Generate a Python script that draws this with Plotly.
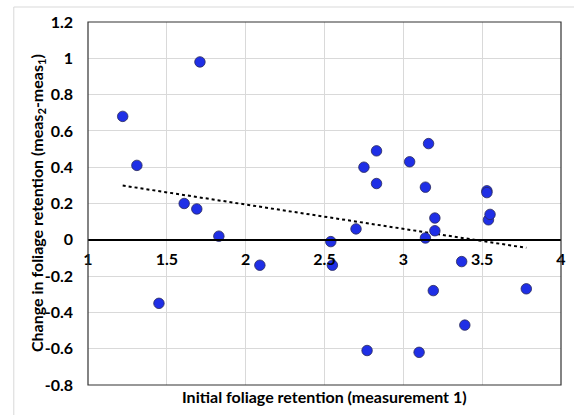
import numpy as np
import plotly.graph_objects as go

# Data
initial_retention = [1.22, 1.31, 1.45, 1.61, 1.69, 1.71, 1.83, 2.09, 2.54, 2.55,
                     2.70, 2.75, 2.77, 2.83, 2.83, 3.04, 3.10, 3.14, 3.14, 3.16,
                     3.19, 3.20, 3.20, 3.37, 3.39, 3.53, 3.53, 3.54, 3.55, 3.78]
change_retention = [0.68, 0.41, -0.35, 0.20, 0.17, 0.98, 0.02, -0.14, -0.01, -0.14,
                    0.06, 0.40, -0.61, 0.49, 0.31, 0.43, -0.62, 0.29, 0.01, 0.53,
                    -0.28, 0.12, 0.05, -0.12, -0.47, 0.27, 0.26, 0.11, 0.14, -0.27]
x_ticks = [1, 1.5, 2, 2.5, 3, 3.5, 4]
x_tick_labels = ["1", "1.5", "2", "2.5", "3", "3.5", "4"]
y_ticks = [-0.8, -0.6, -0.4, -0.2, 0, 0.2, 0.4, 0.6, 0.8, 1, 1.2]
y_tick_labels = ["-0.8", "-0.6", "-0.4", "-0.2", "0", "0.2", "0.4", "0.6", "0.8", "1", "1.2"]

xs = np.array(initial_retention)
ys = np.array(change_retention)
slope, intercept = np.polyfit(xs, ys, 1)
trend_x = [xs.min(), xs.max()]
trend_y = [slope * v + intercept for v in trend_x]

FONT = "Lato"
TICK_SIZE = 16
TITLE_SIZE = 16

fig = go.Figure()
fig.add_trace(go.Scatter(x=trend_x, y=trend_y, mode="lines",
                         line=dict(color="black", width=2, dash="dot"),
                         hoverinfo="skip", showlegend=False))
fig.add_trace(go.Scatter(x=initial_retention, y=change_retention, mode="markers",
                         marker=dict(size=10.5, color="#1f2fe6",
                                     line=dict(color="#2a2a5a", width=0.8)),
                         showlegend=False))

fig.update_layout(
    width=574, height=415,
    margin=dict(l=88, r=8, t=22, b=30),
    paper_bgcolor="white", plot_bgcolor="white",
    font=dict(family=FONT, size=TICK_SIZE, color="black"),
    xaxis=dict(range=[1, 4], tickvals=x_ticks, ticktext=x_tick_labels,
               showgrid=True, gridcolor="#d9d9d9", gridwidth=1,
               zeroline=False, showline=True, linecolor="black", linewidth=2,
               anchor="free", position=0.4, ticks="", ticklabelstandoff=5,
               tickfont=dict(family=FONT, size=TICK_SIZE, color="black", weight="bold")),
    yaxis=dict(range=[-0.8, 1.2], tickvals=y_ticks, ticktext=y_tick_labels,
               showgrid=True, gridcolor="#d9d9d9", gridwidth=1,
               zeroline=False, showline=False, ticks="", ticklabelstandoff=14,
               tickfont=dict(family=FONT, size=TICK_SIZE, color="black", weight="bold")),
    shapes=[
        dict(type="rect", xref="x domain", yref="y domain", x0=0, x1=1, y0=0, y1=1,
             line=dict(color="#333333", width=1.2), layer="above"),
        dict(type="line", xref="paper", yref="paper",
             x0=(13 - 88) / 478, x1=1.2, y0=1 + 15 / 363, y1=1 + 15 / 363,
             line=dict(color="#d9d9d9", width=1)),
        dict(type="line", xref="paper", yref="paper",
             x0=(13 - 88) / 478, x1=(13 - 88) / 478, y0=-0.2, y1=1 + 15 / 363,
             line=dict(color="#d9d9d9", width=1)),
    ],
    annotations=[
        dict(text="Initial foliage retention (measurement 1)", xref="paper", yref="paper",
             x=(327 - 88) / 478, y=-12 / 363, yanchor="middle", xanchor="center",
             showarrow=False, font=dict(family=FONT, size=TITLE_SIZE, color="black", weight="bold")),
        dict(text="Change in foliage retention (meas<sub>2</sub>-meas<sub>1</sub>)",
             xref="paper", yref="paper", x=(37 - 88) / 478, y=0.5, textangle=-90,
             xanchor="center", yanchor="middle", showarrow=False,
             font=dict(family=FONT, size=TITLE_SIZE, color="black", weight="bold")),
    ],
)

fig.write_html("out.html")
